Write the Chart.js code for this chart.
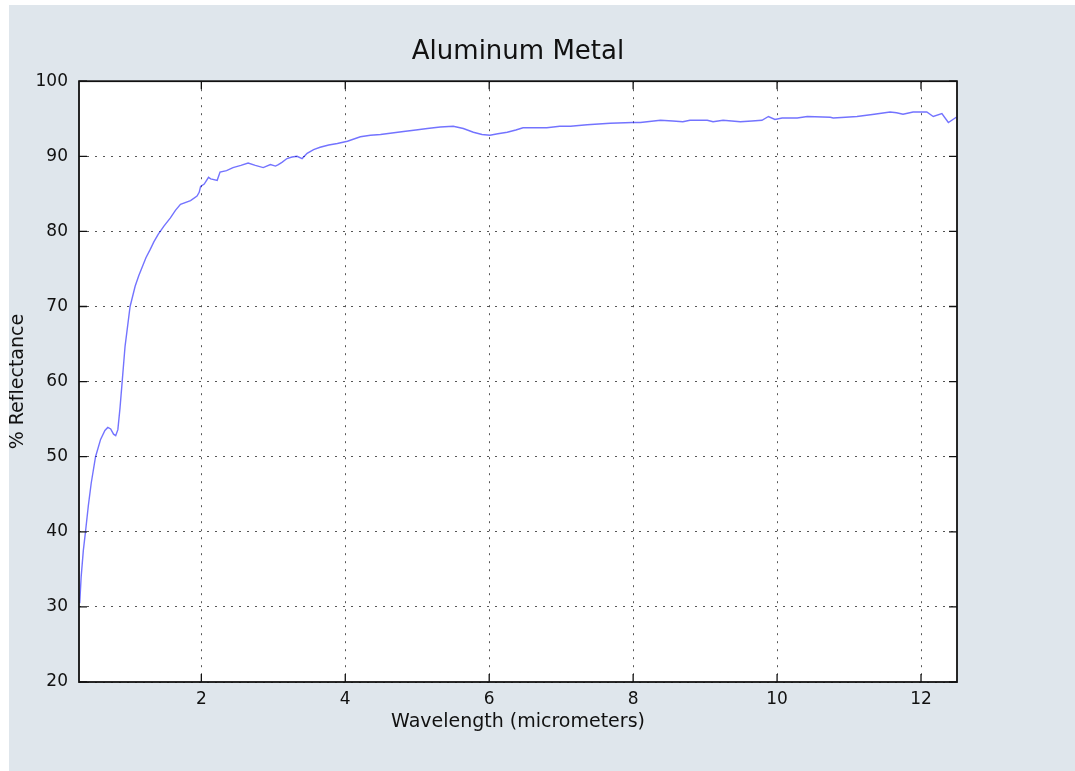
<!DOCTYPE html>
<html>
<head>
<meta charset="utf-8">
<script src="https://cdn.jsdelivr.net/npm/chart.js@4/dist/chart.umd.min.js"></script>
<style>
  html, body { margin: 0; padding: 0; background: #fff; }
  #wrap { position: absolute; left: 9px; top: 5px; width: 1066px; height: 766px; background: #dfe6ec; }
</style>
</head>
<body>
<div id="wrap"><canvas id="chart"></canvas></div>
<script>
const wavelengths = [
  0.31, 0.33, 0.36, 0.39, 0.43, 0.47, 0.53, 0.60, 0.66, 0.70, 0.74, 0.78, 0.81, 0.84, 0.87, 0.90,
  0.94, 1.01, 1.08, 1.13, 1.18, 1.23, 1.29, 1.34, 1.40, 1.48, 1.57, 1.64, 1.71, 1.85, 1.94, 1.97,
  1.99, 2.04, 2.10, 2.13, 2.22, 2.26, 2.35, 2.44, 2.55, 2.65, 2.75, 2.86, 2.96, 3.03, 3.07, 3.12,
  3.19, 3.26, 3.33, 3.40, 3.47, 3.56, 3.65, 3.77, 3.89, 4.03, 4.21, 4.35, 4.49, 4.65, 4.81, 4.98,
  5.14, 5.32, 5.50, 5.64, 5.78, 5.90, 6.01, 6.12, 6.25, 6.37, 6.47, 6.60, 6.80, 6.98, 7.13, 7.36,
  7.68, 7.99, 8.10, 8.38, 8.55, 8.69, 8.79, 9.03, 9.11, 9.25, 9.49, 9.65, 9.79, 9.88, 9.97, 10.07,
  10.28, 10.42, 10.74, 10.78, 10.95, 11.11, 11.35, 11.57, 11.66, 11.75, 11.89, 12.08, 12.17, 12.29,
  12.38, 12.49
];
const reflectance = [
  30.5, 34.0, 37.5, 40.0, 43.5, 46.5, 50.0, 52.3, 53.5, 53.9, 53.7, 53.0, 52.8, 53.6, 56.5, 60.0,
  64.7, 70.0, 72.7, 74.1, 75.3, 76.5, 77.6, 78.6, 79.6, 80.7, 81.8, 82.8, 83.6, 84.1, 84.7, 85.2,
  86.0, 86.3, 87.2, 87.0, 86.8, 87.9, 88.1, 88.5, 88.8, 89.1, 88.8, 88.5, 88.9, 88.7, 88.9, 89.2,
  89.7, 89.9, 90.0, 89.7, 90.4, 90.9, 91.2, 91.5, 91.7, 92.0, 92.6, 92.8, 92.9, 93.1, 93.3, 93.5,
  93.7, 93.9, 94.0, 93.7, 93.2, 92.9, 92.8, 93.0, 93.2, 93.5, 93.8, 93.8, 93.8, 94.0, 94.0, 94.2,
  94.4, 94.5, 94.5, 94.8, 94.7, 94.6, 94.8, 94.8, 94.6, 94.8, 94.6, 94.7, 94.8, 95.3, 94.9, 95.1,
  95.1, 95.3, 95.2, 95.1, 95.2, 95.3, 95.6, 95.9, 95.8, 95.6, 95.9, 95.9, 95.3, 95.7,
  94.5, 95.2
];
const xTicks = [2, 4, 6, 8, 10, 12];
const yTicks = [20, 30, 40, 50, 60, 70, 80, 90, 100];

const FONT = 'DejaVu Sans';

// white plot background + black frame with inward ticks (matplotlib classic look)
const framePlugin = {
  id: 'frame',
  beforeDraw(chart) {
    const { ctx, chartArea: a } = chart;
    ctx.save();
    ctx.fillStyle = '#fff';
    ctx.fillRect(a.left, a.top, a.right - a.left, a.bottom - a.top);
    ctx.restore();
  },
  afterDraw(chart) {
    const { ctx, chartArea: a, scales } = chart;
    const len = 8;
    ctx.save();
    ctx.strokeStyle = '#111';
    ctx.lineWidth = 1.3;
    scales.x.ticks.forEach(t => {
      const px = scales.x.getPixelForValue(t.value);
      ctx.beginPath();
      ctx.moveTo(px, a.bottom); ctx.lineTo(px, a.bottom - len);
      ctx.moveTo(px, a.top); ctx.lineTo(px, a.top + len);
      ctx.stroke();
    });
    scales.y.ticks.forEach(t => {
      const py = scales.y.getPixelForValue(t.value);
      ctx.beginPath();
      ctx.moveTo(a.left, py); ctx.lineTo(a.left + len, py);
      ctx.moveTo(a.right, py); ctx.lineTo(a.right - len, py);
      ctx.stroke();
    });
    ctx.lineWidth = 1.8;
    ctx.strokeRect(a.left, a.top, a.right - a.left, a.bottom - a.top);
    ctx.restore();
  }
};

new Chart(document.getElementById('chart').getContext('2d'), {
  type: 'scatter',
  data: {
    datasets: [{
      label: 'Aluminum Metal',
      data: wavelengths.map((w, i) => ({ x: w, y: reflectance[i] })),
      showLine: true,
      borderColor: 'rgba(40, 40, 255, 0.65)',
      borderWidth: 1.4,
      pointRadius: 0,
      tension: 0
    }]
  },
  options: {
    responsive: true,
    maintainAspectRatio: false,
    animation: false,
    layout: { padding: { left: 0, right: 118, top: 0, bottom: 0 } },
    scales: {
      x: {
        type: 'linear',
        min: 0.3,
        max: 12.5,
        afterFit: (s) => { s.height = 89; },
        afterBuildTicks: (s) => { s.ticks = xTicks.map(v => ({ value: v })); },
        grid: { color: '#555', lineWidth: 1, drawTicks: false },
        border: { display: false, dash: [2, 6] },
        ticks: { color: '#111', font: { family: FONT, size: 17 }, padding: 7, maxRotation: 0 },
        title: {
          display: true, text: 'Wavelength (micrometers)', color: '#111',
          font: { family: FONT, size: 19 }, padding: { top: 0, bottom: 38 }
        }
      },
      y: {
        min: 20,
        max: 100,
        afterFit: (s) => { s.width = 70; },
        afterBuildTicks: (s) => { s.ticks = yTicks.map(v => ({ value: v })); },
        grid: { color: '#555', lineWidth: 1, drawTicks: false },
        border: { display: false, dash: [2, 6] },
        ticks: { color: '#111', font: { family: FONT, size: 17 }, padding: 11 },
        title: {
          display: true, text: '% Reflectance', color: '#111',
          font: { family: FONT, size: 19, lineHeight: 1 }, padding: { top: 0, bottom: 0 }
        }
      }
    },
    plugins: {
      legend: { display: false },
      tooltip: { enabled: false },
      title: {
        display: true,
        fullSize: false,
        text: 'Aluminum Metal',
        color: '#111',
        font: { family: FONT, size: 26, weight: 'normal', lineHeight: 1.2 },
        padding: { top: 32, bottom: 13 }
      }
    }
  },
  plugins: [framePlugin]
});
</script>
</body>
</html>
